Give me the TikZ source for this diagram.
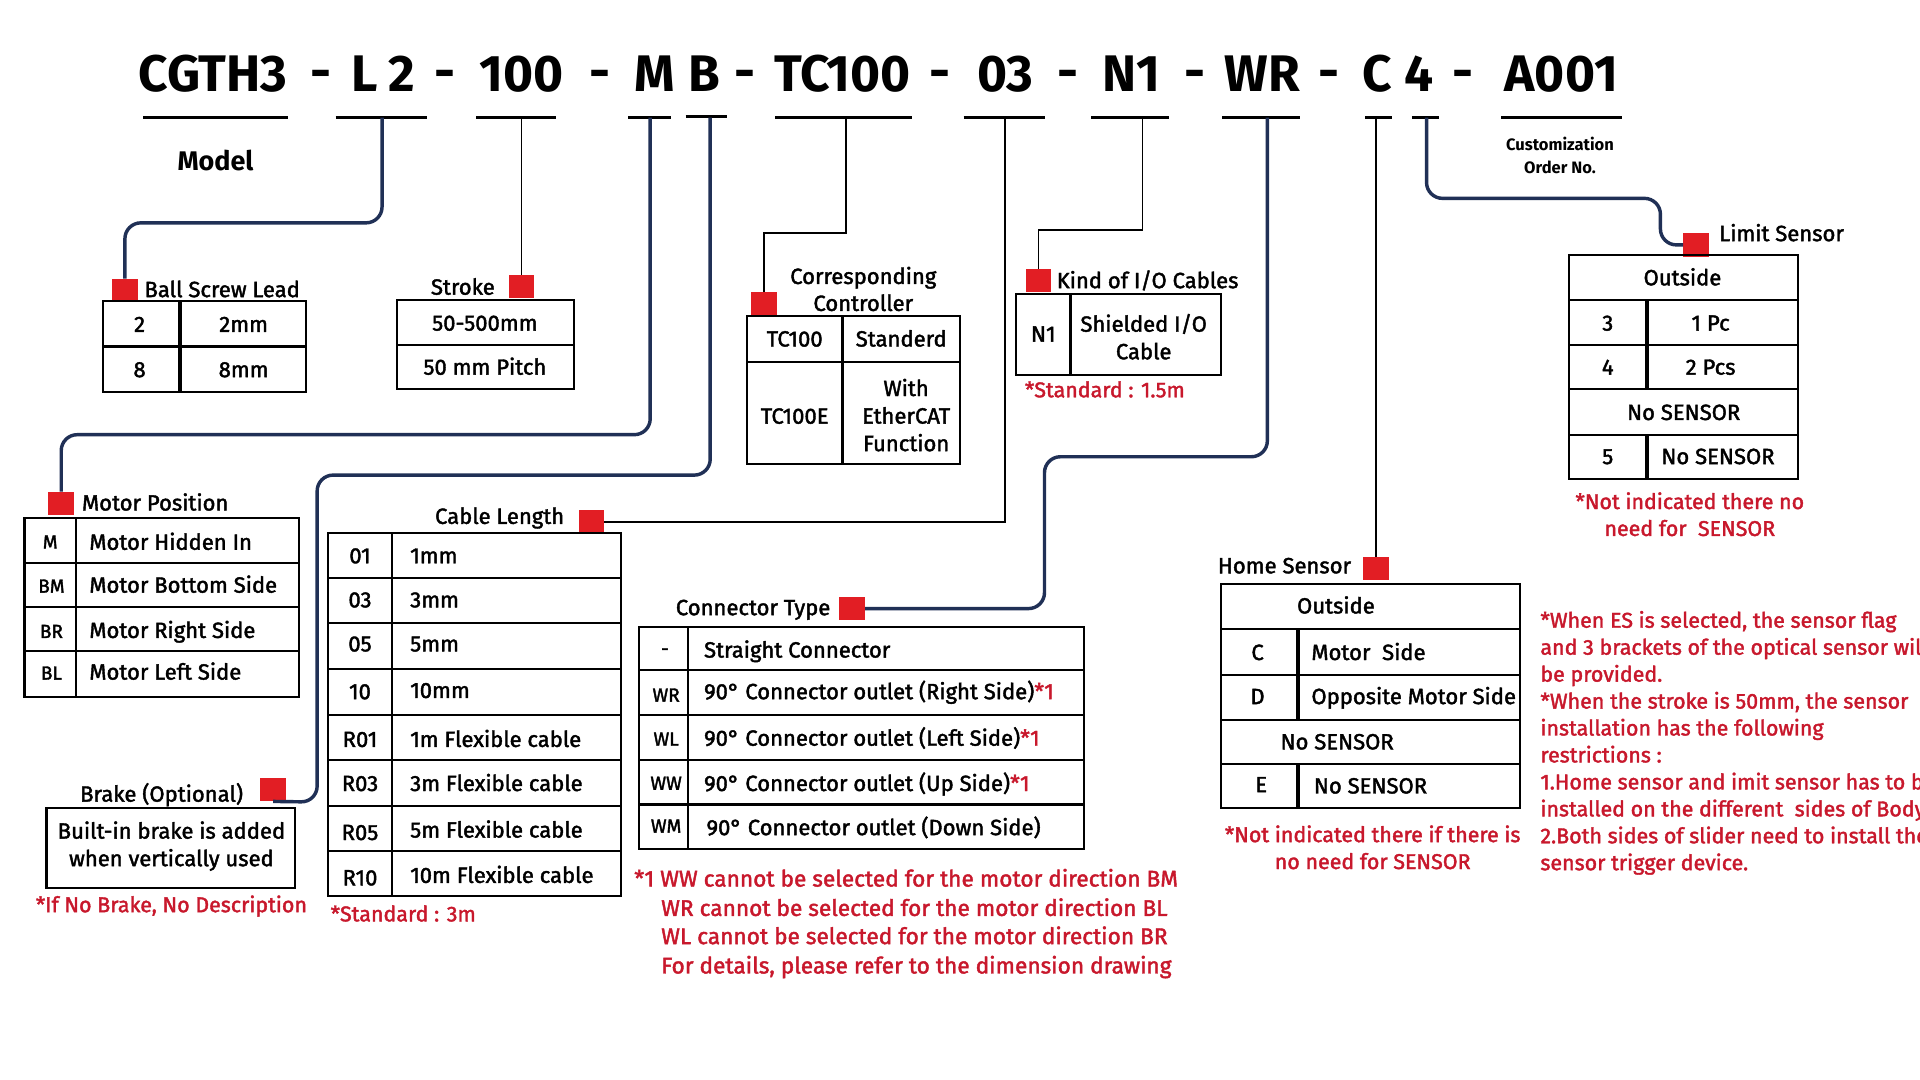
\documentclass[tikz,border=0pt]{standalone}
\usepackage{fontspec}
\setmainfont{Fira Sans}
\newfontfamily\bodyf{Fira Sans}[FakeBold=1.8]
\definecolor{navy}{RGB}{32,48,86}
\definecolor{sqred}{RGB}{226,30,36}
\definecolor{notered}{RGB}{200,24,44}
\begin{document}
\begin{tikzpicture}[x=1pt,y=-1pt,
  every node/.style={inner sep=0pt,outer sep=0pt},
  ttl/.style={font=\bfseries\fontsize{42}{42}\selectfont,anchor=base},
  uline/.style={line width=2.6pt},
  t/.style={font=\bodyf\fontsize{18}{22.5}\selectfont,anchor=base,align=center},
  tl/.style={t,anchor=base west},
  ts/.style={font=\bodyf\fontsize{15.5}{18}\selectfont,anchor=base},
  hd/.style={font=\bodyf\fontsize{18}{22}\selectfont,align=center},
  note/.style={font=\bodyf\fontsize{17.5}{22}\selectfont,text=notered,align=center},
  tab/.style={draw=black,line width=1.7pt},
  vsep/.style={draw=black,line width=2.8pt},
  sq/.style={fill=sqred,minimum width=21pt,minimum height=19pt},
  navyline/.style={draw=navy,line width=2.8pt,rounded corners=13pt},
  blkline/.style={draw=black,line width=1.4pt}]
\useasboundingbox (0,0) rectangle (1568,882);
\fill[white] (0,0) rectangle (1568,882);

% ---------------- title row
\node[ttl] (tCG) at (174,75) {CGTH3};
\node[ttl] (d1) at (262,73) {-};
\node[ttl] (tL) at (298,75) {L};
\node[ttl] (t2) at (328,75) {2};
\node[ttl] (d2) at (363,73) {-};
\node[ttl] (t100) at (426,75) {100};
\node[ttl] (d3) at (490,73) {-};
\node[ttl] (tM) at (535,75) {M};
\node[ttl] (tB) at (575,75) {B};
\node[ttl] (d4) at (608,73) {-};
\node[ttl] (tTC) at (688,75) {TC100};
\node[ttl] (d5) at (768,73) {-};
\node[ttl] (t03) at (821,75) {03};
\node[ttl] (d6) at (872,73) {-};
\node[ttl] (tN1) at (924,75) {N1};
\node[ttl] (d7) at (976,73) {-};
\node[ttl] (tWR) at (1031,75) {WR};
\node[ttl] (d8) at (1085,73) {-};
\node[ttl] (tC) at (1125,75) {C};
\node[ttl] (t4) at (1159,75) {4};
\node[ttl] (d9) at (1195,73) {-};
\node[ttl] (tA) at (1275,75) {A001};

\draw[uline] (117,96) -- (235,96);
\draw[uline] (274,96) -- (349,96);
\draw[uline] (389,96) -- (454,96);
\draw[uline] (513,96) -- (548,96);
\draw[uline] (560,95) -- (594,95);
\draw[uline] (633,96) -- (745,96);
\draw[uline] (787,96) -- (853,96);
\draw[uline] (891,96) -- (955,96);
\draw[uline] (998,96) -- (1062,96);
\draw[uline] (1115,96) -- (1137,96);
\draw[uline] (1153,96) -- (1175,96);
\draw[uline] (1226,96) -- (1325,96);

\coordinate (uL) at (312,96);
\coordinate (u100) at (426,96);
\coordinate (uM) at (531,96);
\coordinate (uB) at (580,96);
\coordinate (uTC) at (691,96);
\coordinate (u03) at (821,96);
\coordinate (uN1) at (933,96);
\coordinate (uWR) at (1035,96);
\coordinate (uC) at (1124,96);
\coordinate (u4) at (1165,96);

\node[font=\bfseries\fontsize{22}{22}\selectfont] (model) at (176,131) {Model};
\node[font=\bfseries\fontsize{13.5}{19}\selectfont,align=center] (cust) at (1274,127) {Customization\\Order No.};

% ---------------- Ball screw lead
\node[sq] (sqbs) at (102,237) {};
\node[hd,anchor=west] (hbs) at (118,236) {Ball Screw Lead};
\draw[tab] (84,246) rectangle (250,320);
\draw[tab] (84,283) -- (250,283);
\draw[vsep] (147,246) -- (147,320);
\node[t] (bs1a) at (114,271) {2};
\node[t] (bs1b) at (199,271) {2mm};
\node[t] (bs2a) at (114,308) {8};
\node[t] (bs2b) at (199,308) {8mm};

% ---------------- Stroke
\node[sq] (sqst) at (426,234) {};
\node[hd] (hst) at (378,234) {Stroke};
\draw[tab] (324,245) rectangle (469,318);
\draw[tab] (324,282) -- (469,282);
\node[t] (st1) at (396,270) {50-500mm};
\node[t] (st2) at (396,306) {50 mm Pitch};

% ---------------- Controller
\node[sq] (sqtc) at (624,248) {};
\node[hd] (htc) at (705,236) {Corresponding\\Controller};
\draw[tab] (610,258) rectangle (784,379);
\draw[tab] (610,296) -- (784,296);
\draw[vsep] (688,258) -- (688,379);
\node[t] (tc1a) at (649,283) {TC100};
\node[t] (tc1b) at (736,283) {Standerd};
\node[t] (tc2a) at (649,346) {TC100E};
\node[t,anchor=center] (tc2b) at (740,339) {With\\EtherCAT\\Function};

% ---------------- I/O cables
\node[sq] (sqio) at (848,229) {};
\node[hd,anchor=west] (hio) at (863,229) {Kind of I/O Cables};
\draw[tab] (830,240) rectangle (997,306);
\draw[vsep] (874,240) -- (874,306);
\node[t] (io1a) at (852,279) {N1};
\node[t,anchor=center] (io1b) at (934,275) {Shielded I/O\\Cable};
\node[note,anchor=west] (io2) at (837,318) {*Standard : 1.5m};

% ---------------- Limit sensor
\node[sq] (sqls) at (1385,200) {};
\node[hd,anchor=west] (hls) at (1404,190) {Limit Sensor};
\draw[tab] (1281,208) rectangle (1468,391);
\foreach \yy in {245,282,318,355} \draw[tab] (1281,\yy) -- (1468,\yy);
\draw[vsep] (1345,245) -- (1345,318);
\draw[vsep] (1345,355) -- (1345,391);
\node[t] (ls0) at (1374,233) {Outside};
\node[t] (ls1a) at (1313,270) {3};
\node[t] (ls1b) at (1397,270) {1 Pc};
\node[t] (ls2a) at (1313,306) {4};
\node[t] (ls2b) at (1397,306) {2 Pcs};
\node[t] (ls3) at (1375,343) {No SENSOR};
\node[t] (ls4a) at (1313,379) {5};
\node[t] (ls4b) at (1403,379) {No SENSOR};
\node[note] (lsn) at (1380,420) {*Not indicated there no\\need for\ \ SENSOR};

% ---------------- Motor position
\node[sq] (sqmp) at (50,411) {};
\node[hd,anchor=west] (hmp) at (67,410) {Motor Position};
\draw[tab] (20,423) rectangle (244,569);
\foreach \yy in {460,496,532} \draw[tab] (20,\yy) -- (244,\yy);
\draw[tab] (62,423) -- (62,569);
\node[ts] (mp1a) at (41,448) {M};
\node[ts] (mp2a) at (42,484) {BM};
\node[ts] (mp3a) at (42,521) {BR};
\node[ts] (mp4a) at (42,555) {BL};
\node[tl] (mp1b) at (73,449) {Motor Hidden In};
\node[tl] (mp2b) at (73,484) {Motor Bottom Side};
\node[tl] (mp3b) at (73,521) {Motor Right Side};
\node[tl] (mp4b) at (73,555) {Motor Left Side};

% ---------------- Brake
\node[sq] (sqbr) at (223,645) {};
\node[hd] (hbr) at (132,649) {Brake (Optional)};
\draw[tab] (38,660) rectangle (241,725);
\node[t,anchor=center] (br1) at (140,691) {Built-in brake is added\\when vertically used};
\node[note] (brn) at (140,740) {*If No Brake, No Description};

% ---------------- Cable length
\node[sq] (sqcl) at (483,426) {};
\node[hd] (hcl) at (408,423) {Cable Length};
\draw[tab] (268,435) rectangle (507,732);
\foreach \yy in {472,509,546,584,621,658,695} \draw[tab] (268,\yy) -- (507,\yy);
\draw[tab] (320,435) -- (320,732);
\node[t] (cl1a) at (294,460) {01};
\node[tl] (cl1b) at (335,460) {1mm};
\node[t] (cl2a) at (294,496) {03};
\node[tl] (cl2b) at (335,496) {3mm};
\node[t] (cl3a) at (294,532) {05};
\node[tl] (cl3b) at (335,532) {5mm};
\node[t] (cl4a) at (294,571) {10};
\node[tl] (cl4b) at (335,570) {10mm};
\node[t] (cl5a) at (294,610) {R01};
\node[tl] (cl5b) at (335,610) {1m Flexible cable};
\node[t] (cl6a) at (294,646) {R03};
\node[tl] (cl6b) at (335,646) {3m Flexible cable};
\node[t] (cl7a) at (294,686) {R05};
\node[tl] (cl7b) at (335,684) {5m Flexible cable};
\node[t] (cl8a) at (294,723) {R10};
\node[tl] (cl8b) at (335,721) {10m Flexible cable};
\node[note,anchor=west] (cln) at (270,746) {*Standard : 3m};

% ---------------- Connector type
\node[sq] (sqct) at (696,497) {};
\node[hd] (hct) at (615,498) {Connector Type};
\draw[tab] (522,512) rectangle (885,693);
\foreach \yy in {547,584,621,657} \draw[tab] (522,\yy) -- (885,\yy);
\draw[tab] (562,512) -- (562,693);
\node[ts] (ct1a) at (543,535) {-};
\node[ts] (ct2a) at (544,573) {WR};
\node[ts] (ct3a) at (544,609) {WL};
\node[ts] (ct4a) at (544,645) {WW};
\node[ts] (ct5a) at (544,680) {WM};
\node[tl] (ct1b) at (575,537) {Straight Connector};
\node[tl] (ct2b) at (575,571) {90° Connector outlet (Right Side)\textcolor{notered}{*1}};
\node[tl] (ct3b) at (575,609) {90° Connector outlet (Left Side)\textcolor{notered}{*1}};
\node[tl] (ct4b) at (575,646) {90° Connector outlet (Up Side)\textcolor{notered}{*1}};
\node[tl] (ct5b) at (577,682) {90° Connector outlet (Down Side)};
\tikzset{cnote/.style={note,font=\bodyf\fontsize{18.5}{22}\selectfont,anchor=base west}}
\node[cnote] (ctn1) at (518,724) {*1 WW cannot be selected for the motor direction BM};
\node[cnote] (ctn2) at (540,748) {WR cannot be selected for the motor direction BL};
\node[cnote] (ctn3) at (540,771) {WL cannot be selected for the motor direction BR};
\node[cnote] (ctn4) at (540,795) {For details, please refer to the dimension drawing};

% ---------------- Home sensor
\node[sq] (sqhs) at (1124,464) {};
\node[hd] (hhs) at (1049,462) {Home Sensor};
\draw[tab] (997,477) rectangle (1241,660);
\foreach \yy in {514,551,588,624} \draw[tab] (997,\yy) -- (1241,\yy);
\draw[vsep] (1060,514) -- (1060,588);
\draw[vsep] (1060,624) -- (1060,660);
\node[t] (hs0) at (1091,501) {Outside};
\node[t] (hs1a) at (1027,539) {C};
\node[tl] (hs1b) at (1071,539) {Motor\ \ Side};
\node[t] (hs2a) at (1027,575) {D};
\node[tl] (hs2b) at (1071,575) {Opposite Motor Side};
\node[t] (hs3) at (1092,612) {No SENSOR};
\node[t] (hs4a) at (1030,647) {E};
\node[tl] (hs4b) at (1073,648) {No SENSOR};
\node[note] (hsn) at (1121,692) {*Not indicated there if there is\\no need for SENSOR};

% ---------------- right notes
\node[note,align=left,anchor=north west] (rn) at (1258,499) {*When ES is selected, the sensor flag\\and 3 brackets of the optical sensor will\\be provided.\\*When the stroke is 50mm, the sensor\\installation has the following\\restrictions :\\1.Home sensor and imit sensor has to be\\installed on the different\ \ sides of Body\\2.Both sides of slider need to install the\\sensor trigger device.};

% ---------------- connectors
\draw[navyline] (uL) -- (312,182) -- (102,182) -- (sqbs.north);
\draw[blkline] (u100) -- (sqst.north);
\draw[navyline] (uM) -- (531,355) -- (50,355) -- (sqmp.north);
\draw[navyline] (uB) -- (580,388) -- (259,388) -- (259,655) -- (sqbr.south);
\draw[blkline] (uTC) -- (691,190) -- (624,190) -- (sqtc.north);
\draw[blkline,line width=1.7pt] (u03) -- (821,426) -- (sqcl.east);
\draw[blkline] (uN1) -- (933,188) -- (848,188) -- (sqio.north);
\draw[navyline] (uWR) -- (1035,373) -- (853,373) -- (853,497) -- (sqct.east);
\draw[blkline] (uC) -- (sqhs.north);
\draw[navyline] (u4) -- (1165,162) -- (1356,162) -- (1356,200) -- (sqls.west);
\end{tikzpicture}
\end{document}
